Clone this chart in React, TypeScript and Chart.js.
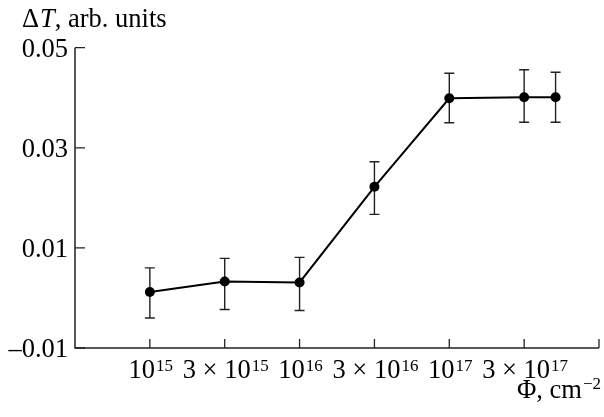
import React, { useEffect, useRef } from "react";
import { Chart, registerables } from "chart.js";

Chart.register(...registerables);

// Fluence positions on the evenly spaced tick axis (0 = 10^15, 1 = 3×10^15, ...)
const fluencePos = [0, 1, 2, 3, 4, 5, 5.42];
// ΔT values (arb. units)
const deltaT = [0.0012, 0.0033, 0.0031, 0.0222, 0.0399, 0.0401, 0.0401];
const errHigh = [0.006, 0.0079, 0.0081, 0.0272, 0.0449, 0.0456, 0.0451];
const errLow = [-0.004, -0.0023, -0.0025, 0.0167, 0.035, 0.0351, 0.0351];

// x tick labels: mantissa prefix + "10" + exponent
const xTickPos = [0, 1, 2, 3, 4, 5];
const xTickPrefix = ["", "3 × ", "", "3 × ", "", "3 × "];
const xTickExp = ["15", "15", "16", "16", "17", "17"];
const xAxisTickMarks = [0, 1, 2, 3, 4, 5, 6];

const yTicks = [-0.01, 0.01, 0.03, 0.05];
const yTickLabels = ["–0.01", "0.01", "0.03", "0.05"];

const FONT = "'Liberation Serif', 'Times New Roman', serif";

const errorBarPlugin = {
  id: "errorBars",
  beforeDatasetsDraw(chart: any) {
    const ctx = chart.ctx;
    const xs = chart.scales.x;
    const ys = chart.scales.y;
    ctx.save();
    ctx.strokeStyle = "#222";
    ctx.lineWidth = 1.4;
    for (let i = 0; i < fluencePos.length; i++) {
      const px = xs.getPixelForValue(fluencePos[i]);
      const top = ys.getPixelForValue(errHigh[i]);
      const bot = ys.getPixelForValue(errLow[i]);
      ctx.beginPath();
      ctx.moveTo(px, top);
      ctx.lineTo(px, bot);
      ctx.moveTo(px - 5, top);
      ctx.lineTo(px + 5, top);
      ctx.moveTo(px - 5, bot);
      ctx.lineTo(px + 5, bot);
      ctx.stroke();
    }
    ctx.restore();
  },
};

const axesPlugin = {
  id: "customAxes",
  afterDraw(chart: any) {
    const ctx = chart.ctx;
    const xs = chart.scales.x;
    const ys = chart.scales.y;
    const area = chart.chartArea;
    ctx.save();
    ctx.strokeStyle = "#222";
    ctx.lineWidth = 1.5;
    // axis lines
    ctx.beginPath();
    ctx.moveTo(area.left, area.top);
    ctx.lineTo(area.left, area.bottom);
    ctx.lineTo(area.right, area.bottom);
    ctx.stroke();
    // x tick marks (inward)
    ctx.lineWidth = 1.3;
    ctx.beginPath();
    for (const v of xAxisTickMarks) {
      const px = xs.getPixelForValue(v);
      ctx.moveTo(px, area.bottom);
      ctx.lineTo(px, area.bottom - 9);
    }
    // y tick marks (inward)
    for (const v of yTicks) {
      const py = ys.getPixelForValue(v);
      ctx.moveTo(area.left, py);
      ctx.lineTo(area.left + 10, py);
    }
    ctx.stroke();

    ctx.fillStyle = "#000";
    const baseFont = `26.5px ${FONT}`;
    const supFont = `17px ${FONT}`;
    // y tick labels
    ctx.font = baseFont;
    ctx.textAlign = "right";
    ctx.textBaseline = "alphabetic";
    yTicks.forEach((v, i) => {
      const py = ys.getPixelForValue(v);
      ctx.fillText(yTickLabels[i], area.left - 7, py + 9);
    });

    // x tick labels with superscripts
    const baseY = area.bottom + 30;
    ctx.textAlign = "left";
    xTickPos.forEach((v, i) => {
      const px = xs.getPixelForValue(v);
      ctx.font = baseFont;
      const baseText = xTickPrefix[i] + "10";
      const bw = ctx.measureText(baseText).width;
      ctx.font = supFont;
      const sw = ctx.measureText(xTickExp[i]).width;
      const total = bw + 1 + sw;
      const x0 = px - total / 2 + 1;
      ctx.font = baseFont;
      ctx.fillText(baseText, x0, baseY);
      ctx.font = supFont;
      ctx.fillText(xTickExp[i], x0 + bw + 1, baseY - 7.5);
    });

    // x axis title: Φ, cm^-2
    ctx.font = baseFont;
    const xt = "Φ, cm";
    const xtw = ctx.measureText(xt).width;
    ctx.font = supFont;
    const xsup = "−2";
    const xsw = ctx.measureText(xsup).width;
    const xEnd = 601;
    const xStart = xEnd - xsw - 1 - xtw;
    ctx.font = baseFont;
    ctx.fillText(xt, xStart, 398);
    ctx.font = supFont;
    ctx.fillText(xsup, xStart + xtw + 1, 389);

    // y axis title: ΔT, arb. units
    let tx = 22;
    const ty = 26.5;
    ctx.font = baseFont;
    ctx.fillText("Δ", tx, ty);
    tx += ctx.measureText("Δ").width + 1;
    ctx.font = `italic 26.5px ${FONT}`;
    ctx.fillText("T", tx, ty);
    tx += ctx.measureText("T").width;
    ctx.font = baseFont;
    ctx.fillText(", arb. units", tx, ty);

    ctx.restore();
  },
};

export default function App() {
  const canvasRef = useRef<HTMLCanvasElement | null>(null);

  useEffect(() => {
    document.body.style.margin = "0";
    const canvas = canvasRef.current;
    if (!canvas) return;
    const chart = new Chart(canvas, {
      type: "line",
      data: {
        datasets: [
          {
            data: fluencePos.map((x, i) => ({ x, y: deltaT[i] })),
            borderColor: "#000",
            backgroundColor: "#000",
            borderWidth: 2,
            pointRadius: 5,
            pointBackgroundColor: "#000",
            pointBorderColor: "#000",
            pointBorderWidth: 0,
            tension: 0,
          },
        ],
      },
      options: {
        animation: false,
        responsive: false,
        maintainAspectRatio: false,
        events: [],
        layout: { padding: { left: 75, right: 1, top: 47.7, bottom: 69 } },
        plugins: {
          legend: { display: false },
          tooltip: { enabled: false },
          title: { display: false },
        },
        scales: {
          x: {
            type: "linear",
            min: -1,
            max: 6,
            ticks: { display: false },
            grid: { display: false },
            border: { display: false },
            afterFit: (s: any) => {
              s.height = 0;
            },
          },
          y: {
            type: "linear",
            min: -0.01,
            max: 0.05,
            ticks: { display: false },
            grid: { display: false },
            border: { display: false },
            afterFit: (s: any) => {
              s.width = 0;
            },
          },
        },
      },
      plugins: [errorBarPlugin, axesPlugin],
    } as any);
    return () => chart.destroy();
  }, []);

  return (
    <div style={{ position: "absolute", left: 0, top: 0, width: 604, height: 417, background: "#fff" }}>
      <canvas ref={canvasRef} width={604} height={417} style={{ width: 604, height: 417, display: "block" }} />
    </div>
  );
}
